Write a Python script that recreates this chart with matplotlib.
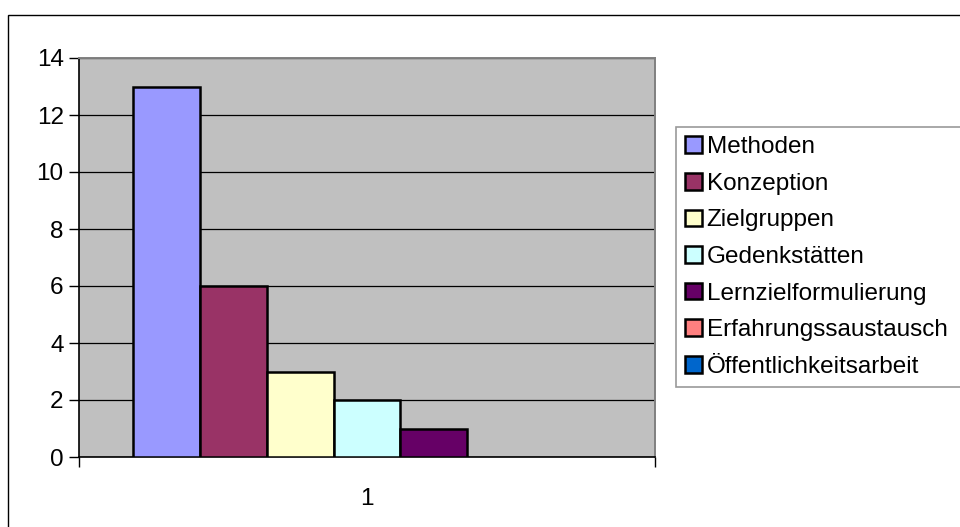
import matplotlib.pyplot as plt
import numpy as np
from matplotlib.patches import Rectangle

plt.rcParams["font.family"] = ["Liberation Sans", "DejaVu Sans"]

categories = ["Methoden", "Konzeption", "Zielgruppen", "Gedenkstätten",
              "Lernzielformulierung", "Erfahrungssaustausch", "Öffentlichkeitsarbeit"]
values = [13, 6, 3, 2, 1, 0, 0]
colors = ["#9999FF", "#993366", "#FFFFCC", "#CCFFFF", "#660066", "#FF8080", "#0066CC"]
group_label = "1"

W, H = 960, 527
FS = 17.5
fig = plt.figure(figsize=(W / 100, H / 100), dpi=100)
fig.patches.append(Rectangle((8 / W, -0.05), 1.1, 1 - 15 / H + 0.05,
                             transform=fig.transFigure, fill=False,
                             edgecolor="black", lw=1.0))

ax = fig.add_axes([79 / W, 1 - 457 / H, (655 - 79) / W, (457 - 58) / H])
ax.set_facecolor("#C0C0C0")

n = len(values)
group_w = 0.814
bw = group_w / n
x0 = 0.5 - group_w / 2
for i, (cat, v, c) in enumerate(zip(categories, values, colors)):
    ax.bar(x0 + (i + 0.5) * bw, v, width=bw, color=c, edgecolor="black",
           lw=1.8 if v > 0 else 0, label=cat, zorder=3)

ax.set_xlim(0, 1)
ax.set_ylim(0, 14)
ax.set_yticks(np.arange(0, 15, 2))
ax.yaxis.grid(True, color="black", lw=0.9, zorder=1)
ax.set_axisbelow(True)
ax.set_xticks([0.5])
ax.set_xticklabels([group_label])
ax.set_xticks([0, 1], minor=True)
ax.tick_params(axis="x", which="major", length=0, pad=22, labelsize=FS)
ax.tick_params(axis="x", which="minor", length=7, width=1, color="black",
               direction="out")
ax.tick_params(axis="y", length=7, width=1, direction="out", labelsize=FS, pad=4)
for s in ("top", "right"):
    ax.spines[s].set_color("#808080")
    ax.spines[s].set_linewidth(1.4)
for s in ("left", "bottom"):
    ax.spines[s].set_color("black")
    ax.spines[s].set_linewidth(1.2)

# legend box runs past the right edge of the image, as in the reference
leg = ax.legend(loc="upper left",
                bbox_to_anchor=(676 / W, 1 - 387 / H, (980 - 676) / W, 260 / H),
                bbox_transform=fig.transFigure, mode="expand", fontsize=FS,
                frameon=True, fancybox=False, edgecolor="#808080",
                handlelength=0.68, handleheight=0.68, handletextpad=0.2,
                labelspacing=0.6, borderpad=0.38, borderaxespad=0)
leg._legend_box.sep = 0
leg.get_frame().set_linewidth(1.2)
for p in leg.get_patches():
    p.set_linewidth(1.8)

fig.savefig("out.png", dpi=100)
